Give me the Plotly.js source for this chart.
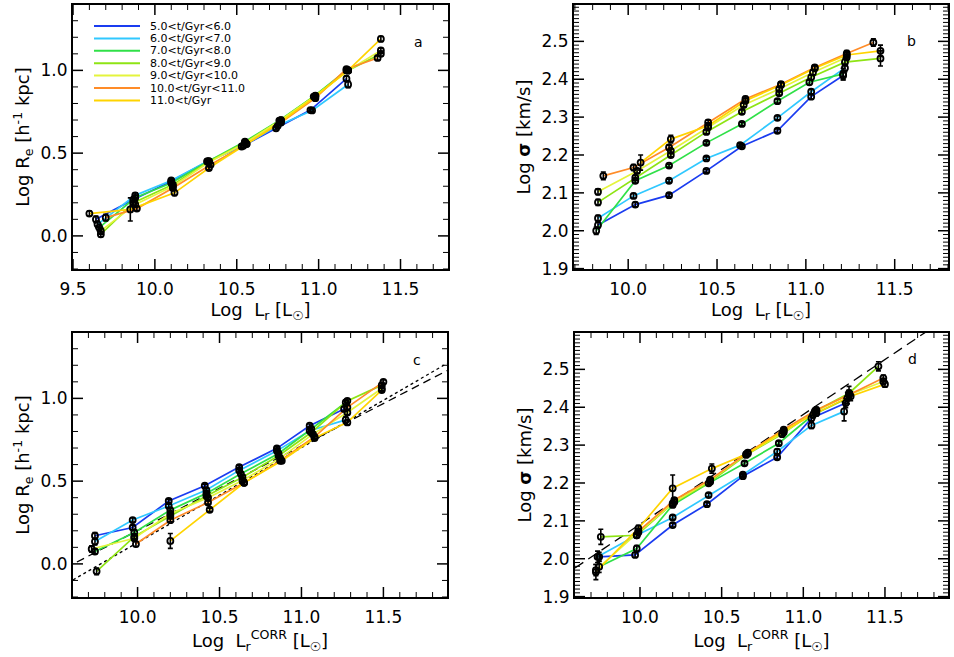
<!DOCTYPE html>
<html>
<head>
<meta charset="utf-8">
<script src="https://cdn.plot.ly/plotly-3.0.1.min.js"></script>
<style>
  body { margin: 0; background: white; }
  #chart { width: 954px; height: 657px; }
</style>
</head>
<body>
<div id="chart"></div>
<script>
// age bins, one colour per bin
var binNames = ["5.0<t/Gyr<6.0", "6.0<t/Gyr<7.0", "7.0<t/Gyr<8.0", "8.0<t/Gyr<9.0",
                "9.0<t/Gyr<10.0", "10.0<t/Gyr<11.0", "11.0<t/Gyr"];
var binColors = ["#1a3cf0", "#30c8ff", "#30e048", "#8ee414", "#e4f43c", "#ff8c28", "#ffd400"];

// panel a: Log Re vs Log Lr
var aX = [
  [9.64, 9.87, 10.10, 10.32, 10.53, 10.74, 10.95, 11.17],
  [9.65, 9.88, 10.10, 10.32, 10.54, 10.75, 10.96, 11.18],
  [9.66, 9.88, 10.10, 10.33, 10.55, 10.76, 10.97, 11.17],
  [9.67, 9.87, 10.11, 10.33, 10.55, 10.77, 10.98, 11.18, 11.38],
  [9.67, 9.88, 10.11, 10.33, 10.55, 10.77, 10.98, 11.18, 11.38],
  [9.70, 9.89, 10.11, 10.34, 10.56, 10.77, 10.98, 11.17, 11.36],
  [9.60, 9.85, 10.12, 10.33, 10.56, 10.77, 10.98, 11.18, 11.38]
];
var aY = [
  [0.10, 0.22, 0.33, 0.45, 0.54, 0.65, 0.76, 0.95],
  [0.07, 0.245, 0.335, 0.45, 0.545, 0.665, 0.758, 0.915],
  [0.05, 0.23, 0.32, 0.452, 0.57, 0.697, 0.842, 1.0],
  [0.01, 0.20, 0.31, 0.45, 0.565, 0.70, 0.848, 1.0, 1.10],
  [0.03, 0.19, 0.30, 0.445, 0.56, 0.70, 0.845, 1.0, 1.12],
  [0.11, 0.165, 0.29, 0.43, 0.556, 0.685, 0.832, 1.008, 1.075],
  [0.135, 0.16, 0.26, 0.41, 0.555, 0.69, 0.842, 1.0, 1.19]
];
var aErr = [
  [0.02, 0.015, 0.012, 0.01, 0.01, 0.01, 0.01, 0.015],
  [0.02, 0.015, 0.01, 0.01, 0.01, 0.01, 0.01, 0.02],
  [0.02, 0.015, 0.01, 0.01, 0.01, 0.01, 0.01, 0.012],
  [0.015, 0.015, 0.01, 0.01, 0.01, 0.01, 0.01, 0.012, 0.015],
  [0.02, 0.015, 0.01, 0.01, 0.01, 0.01, 0.01, 0.01, 0.015],
  [0.02, 0.012, 0.01, 0.01, 0.01, 0.01, 0.01, 0.01, 0.012],
  [0.015, 0.07, 0.015, 0.01, 0.01, 0.01, 0.01, 0.01, 0.015]
];

// panel b: Log sigma vs Log Lr
var bX = [
  [9.83, 10.04, 10.23, 10.44, 10.64, 10.84, 11.03, 11.21],
  [9.83, 10.03, 10.23, 10.44, 10.63, 10.84, 11.03, 11.22],
  [9.82, 10.04, 10.23, 10.44, 10.64, 10.84, 11.02, 11.21],
  [9.83, 10.04, 10.24, 10.44, 10.64, 10.85, 11.03, 11.22, 11.42],
  [9.83, 10.05, 10.24, 10.45, 10.65, 10.85, 11.04, 11.23],
  [9.86, 10.03, 10.23, 10.45, 10.66, 10.86, 11.05, 11.23, 11.38],
  [10.07, 10.24, 10.45, 10.66, 10.86, 11.05, 11.23, 11.42]
];
var bY = [
  [2.015, 2.069, 2.094, 2.158, 2.223, 2.264, 2.354, 2.41],
  [2.033, 2.092, 2.132, 2.191, 2.226, 2.298, 2.367, 2.43],
  [2.0, 2.132, 2.172, 2.232, 2.282, 2.342, 2.392, 2.414],
  [2.075, 2.14, 2.20, 2.261, 2.314, 2.363, 2.405, 2.445, 2.455],
  [2.103, 2.158, 2.211, 2.273, 2.332, 2.374, 2.418, 2.458],
  [2.145, 2.167, 2.22, 2.286, 2.348, 2.387, 2.431, 2.468, 2.497],
  [2.18, 2.242, 2.277, 2.343, 2.385, 2.429, 2.464, 2.475]
];
var bErr = [
  [0.008, 0.006, 0.004, 0.004, 0.004, 0.005, 0.006, 0.012],
  [0.008, 0.006, 0.004, 0.004, 0.004, 0.005, 0.006, 0.01],
  [0.01, 0.006, 0.004, 0.004, 0.004, 0.005, 0.006, 0.015],
  [0.008, 0.006, 0.005, 0.005, 0.005, 0.005, 0.006, 0.01, 0.02],
  [0.008, 0.006, 0.005, 0.005, 0.005, 0.005, 0.006, 0.008],
  [0.01, 0.008, 0.006, 0.006, 0.006, 0.006, 0.006, 0.008, 0.01],
  [0.02, 0.01, 0.008, 0.006, 0.006, 0.006, 0.008, 0.015]
];

// panel c: Log Re vs Log Lr(corr)
var cX = [
  [9.74, 9.97, 10.19, 10.41, 10.62, 10.85, 11.05, 11.26],
  [9.74, 9.97, 10.19, 10.42, 10.62, 10.85, 11.05, 11.27],
  [9.74, 9.98, 10.20, 10.42, 10.63, 10.86, 11.06, 11.27],
  [9.75, 9.98, 10.20, 10.42, 10.64, 10.86, 11.06, 11.28, 11.49],
  [9.72, 9.98, 10.20, 10.43, 10.64, 10.87, 11.07, 11.28, 11.49],
  [9.99, 10.20, 10.43, 10.65, 10.87, 11.08, 11.28, 11.50],
  [10.20, 10.44, 10.65, 10.88, 11.08, 11.28, 11.49]
];
var cY = [
  [0.17, 0.22, 0.38, 0.472, 0.585, 0.698, 0.835, 0.936],
  [0.135, 0.265, 0.35, 0.446, 0.565, 0.683, 0.805, 0.87],
  [0.075, 0.19, 0.325, 0.426, 0.544, 0.667, 0.815, 0.976],
  [-0.045, 0.165, 0.29, 0.41, 0.524, 0.653, 0.794, 0.985, 1.08],
  [0.09, 0.155, 0.304, 0.40, 0.504, 0.639, 0.784, 0.915, 1.06],
  [0.12, 0.264, 0.371, 0.49, 0.623, 0.768, 0.946, 1.10],
  [0.139, 0.327, 0.49, 0.623, 0.76, 0.855, 1.05]
];
var cErr = [
  [0.02, 0.012, 0.01, 0.01, 0.01, 0.01, 0.01, 0.012],
  [0.02, 0.012, 0.01, 0.01, 0.01, 0.01, 0.01, 0.02],
  [0.015, 0.012, 0.01, 0.01, 0.01, 0.01, 0.01, 0.012],
  [0.02, 0.012, 0.01, 0.01, 0.01, 0.01, 0.01, 0.012, 0.012],
  [0.02, 0.015, 0.01, 0.01, 0.01, 0.01, 0.01, 0.012, 0.012],
  [0.015, 0.01, 0.01, 0.01, 0.01, 0.01, 0.012, 0.012],
  [0.045, 0.01, 0.01, 0.01, 0.01, 0.015, 0.012]
];

// panel d: Log sigma vs Log Lr(corr)
var dX = [
  [9.75, 9.97, 10.20, 10.41, 10.63, 10.84, 11.05, 11.26],
  [9.74, 9.98, 10.20, 10.42, 10.63, 10.84, 11.05, 11.25],
  [9.75, 9.98, 10.20, 10.42, 10.64, 10.85, 11.06, 11.27],
  [9.76, 9.98, 10.20, 10.43, 10.65, 10.87, 11.07, 11.28, 11.46],
  [9.73, 9.99, 10.21, 10.43, 10.65, 10.88, 11.08, 11.28, 11.49],
  [9.99, 10.21, 10.43, 10.66, 10.88, 11.08, 11.28, 11.49],
  [9.73, 9.99, 10.20, 10.44, 10.66, 10.88, 11.08, 11.29, 11.50]
];
var dY = [
  [2.005, 2.01, 2.089, 2.144, 2.218, 2.268, 2.371, 2.411],
  [2.005, 2.062, 2.109, 2.168, 2.222, 2.283, 2.352, 2.389],
  [1.979, 2.027, 2.142, 2.199, 2.252, 2.305, 2.38, 2.424],
  [2.058, 2.062, 2.146, 2.203, 2.274, 2.329, 2.389, 2.437, 2.508],
  [1.97, 2.07, 2.15, 2.207, 2.276, 2.334, 2.391, 2.433, 2.468],
  [2.072, 2.155, 2.209, 2.28, 2.341, 2.393, 2.433, 2.477],
  [1.965, 2.08, 2.186, 2.238, 2.278, 2.338, 2.385, 2.429, 2.461]
];
var dErr = [
  [0.012, 0.006, 0.005, 0.004, 0.004, 0.005, 0.008, 0.012],
  [0.015, 0.006, 0.005, 0.005, 0.004, 0.006, 0.008, 0.025],
  [0.015, 0.008, 0.005, 0.005, 0.005, 0.005, 0.008, 0.015],
  [0.02, 0.006, 0.006, 0.005, 0.005, 0.005, 0.008, 0.018, 0.012],
  [0.015, 0.006, 0.006, 0.005, 0.005, 0.005, 0.008, 0.012, 0.008],
  [0.008, 0.006, 0.005, 0.005, 0.005, 0.006, 0.012, 0.008],
  [0.02, 0.008, 0.035, 0.012, 0.006, 0.006, 0.008, 0.012, 0.008]
];

// reference relations [slope, intercept]
var cDashFit = [0.512, -4.919];
var cDotFit = [0.573, -5.601];
var dDashFit = [0.29, -0.809];

var font = "DejaVu Sans";
var traces = [];

function fitLine(fit, range, xa, ya, dash) {
  var xs = [range[0], range[1]];
  traces.push({
    x: xs, y: xs.map(v => fit[0] * v + fit[1]),
    xaxis: xa, yaxis: ya, mode: "lines",
    line: {color: "black", width: 1.3, dash: dash},
    showlegend: false, hoverinfo: "skip"
  });
}

function addPanel(xs, ys, es, xa, ya) {
  xs.forEach(function(x, i) {
    traces.push({
      x: x, y: ys[i], xaxis: xa, yaxis: ya, mode: "lines",
      line: {color: binColors[i], width: 1.7},
      showlegend: false, hoverinfo: "skip"
    });
  });
  xs.forEach(function(x, i) {
    traces.push({
      x: x, y: ys[i], xaxis: xa, yaxis: ya, mode: "markers",
      marker: {symbol: "circle-open", size: 6, color: "black", line: {width: 1.8, color: "black"}},
      error_y: {type: "data", array: es[i], color: "black", thickness: 1.6, width: 2.5},
      showlegend: false
    });
  });
}

var rangeA = [9.5, 11.79], rangeB = [9.695, 11.8], rangeC = [9.606, 11.888], rangeD = [9.602, 11.886];
var rangeRe = [-0.2, 1.395], rangeSig = [1.899, 2.596];

fitLine(cDotFit, rangeC, "x3", "y3", "dot");
fitLine(cDashFit, [9.63, rangeC[1]], "x3", "y3", "8px,5px");
fitLine(dDashFit, rangeD, "x4", "y4", "10px,6px");

addPanel(aX, aY, aErr, "x", "y");
addPanel(bX, bY, bErr, "x2", "y2");
addPanel(cX, cY, cErr, "x3", "y3");
addPanel(dX, dY, dErr, "x4", "y4");

function axis(domain, range, dtick, title, anchor, isX) {
  var a = {
    domain: domain, range: range, anchor: anchor,
    dtick: dtick, tick0: 0, tickformat: ".1f",
    showline: true, linewidth: 2, linecolor: "black", mirror: true,
    ticks: "", showgrid: false, zeroline: false,
    tickfont: {family: font, size: 17, color: "black"},
    title: {text: title, font: {family: font, size: 18, color: "black"}, standoff: isX ? 3 : 6}
  };
  if (isX) a.ticklabelstandoff = 4;
  return a;
}

var xLr = "Log  L<sub>r</sub> [L<sub>☉</sub>]";
var xLc = "Log  L<sub>r</sub><sup>CORR</sup> [L<sub>☉</sub>]";
var yRe = "Log R<sub>e</sub> [h<sup>-1</sup> kpc]";
var ySig = "Log <b>σ</b> [km/s]";

var px = v => v / 954, py = v => 1 - v / 657;

var layout = {
  width: 954, height: 657,
  margin: {l: 0, r: 0, t: 0, b: 0},
  showlegend: false,
  xaxis:  axis([px(73), px(448)], rangeA, 0.5, xLr, "y", true),
  yaxis:  axis([py(269), py(5)], rangeRe, 0.5, yRe, "x", false),
  xaxis2: axis([px(574), px(948)], rangeB, 0.5, xLr, "y2", true),
  yaxis2: axis([py(269), py(5)], rangeSig, 0.1, ySig, "x2", false),
  xaxis3: axis([px(73), px(447)], rangeC, 0.5, xLc, "y3", true),
  yaxis3: axis([py(597), py(333)], rangeRe, 0.5, yRe, "x3", false),
  xaxis4: axis([px(575), px(948)], rangeD, 0.5, xLc, "y4", true),
  yaxis4: axis([py(597), py(333)], rangeSig, 0.1, ySig, "x4", false),
  shapes: [],
  annotations: []
};

// inward tick marks on all four sides, major and minor
function tickMarks(xa, ya, xr, yr, xt, yt, wPx, hPx) {
  var n = Math.round(xt[0] / xt[1]);
  for (var k = Math.ceil(xr[0] / xt[1] - 1e-9); k * xt[1] <= xr[1] + 1e-9; k++) {
    var major = (k % n === 0), len = (major ? 10 : 5) / hPx, w = major ? 1.5 : 1;
    [[0, len], [1, 1 - len]].forEach(function(s) {
      layout.shapes.push({type: "line", xref: xa, yref: ya + " domain",
        x0: k * xt[1], x1: k * xt[1], y0: s[0], y1: s[1], line: {color: "black", width: w}});
    });
  }
  var m = Math.round(yt[0] / yt[1]);
  for (var j = Math.ceil(yr[0] / yt[1] - 1e-9); j * yt[1] <= yr[1] + 1e-9; j++) {
    var maj = (j % m === 0), ln = (maj ? 10 : 5) / wPx, wd = maj ? 1.5 : 1;
    [[0, ln], [1, 1 - ln]].forEach(function(s) {
      layout.shapes.push({type: "line", xref: xa + " domain", yref: ya,
        x0: s[0], x1: s[1], y0: j * yt[1], y1: j * yt[1], line: {color: "black", width: wd}});
    });
  }
}
tickMarks("x", "y", rangeA, rangeRe, [0.5, 0.1], [0.5, 0.1], 375, 264);
tickMarks("x2", "y2", rangeB, rangeSig, [0.5, 0.1], [0.1, 0.01], 374, 264);
tickMarks("x3", "y3", rangeC, rangeRe, [0.5, 0.1], [0.5, 0.1], 374, 264);
tickMarks("x4", "y4", rangeD, rangeSig, [0.5, 0.1], [0.1, 0.01], 373, 264);

// panel letters
[["a", 418, 32], ["b", 918, 31], ["c", 417, 360], ["d", 919, 359]].forEach(function(p) {
  layout.annotations.push({
    text: p[0], xref: "paper", yref: "paper", x: px(p[1]), y: py(p[2]),
    showarrow: false, font: {family: font, size: 14, color: "black"}
  });
});

// legend drawn by hand inside panel a
binNames.forEach(function(name, i) {
  var yy = py(26 + i * 12.4);
  layout.shapes.push({
    type: "line", xref: "paper", yref: "paper",
    x0: px(94), x1: px(140), y0: yy, y1: yy,
    line: {color: binColors[i], width: 2}
  });
  layout.annotations.push({
    text: name, xref: "paper", yref: "paper", x: px(148), y: yy,
    xanchor: "left", yanchor: "middle", showarrow: false,
    font: {family: font, size: 11, color: "black"}
  });
});

Plotly.newPlot("chart", traces, layout, {displayModeBar: false, staticPlot: true});
</script>
</body>
</html>
